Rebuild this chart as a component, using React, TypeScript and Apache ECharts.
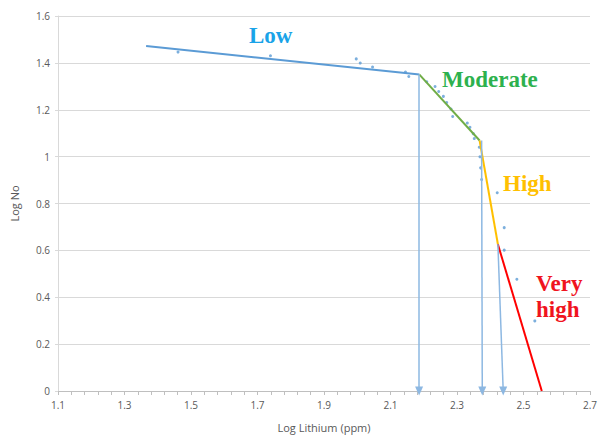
import React, { useEffect, useRef } from "react";
import * as echarts from "echarts";

// x offset so that axis ticks start at 1.1 (labels show real values)
const X0 = 1.1;

const scatterX = [1.461, 1.739, 1.997, 2.009, 2.046, 2.145, 2.155, 2.209, 2.234, 2.245, 2.259, 2.269, 2.282, 2.287, 2.331, 2.339, 2.349, 2.352, 2.367, 2.369, 2.371, 2.374, 2.421, 2.442, 2.442, 2.48, 2.534];
const scatterY = [1.446, 1.43, 1.417, 1.399, 1.382, 1.361, 1.342, 1.319, 1.299, 1.278, 1.257, 1.231, 1.203, 1.171, 1.143, 1.125, 1.098, 1.077, 1.04, 0.999, 0.952, 0.902, 0.846, 0.697, 0.601, 0.477, 0.299];

// segment break points
const lowSeg = [[1.365, 1.472], [2.187, 1.35]];
const modSeg = [[2.187, 1.35], [2.368, 1.069]];
const highSeg = [[2.368, 1.069], [2.423, 0.626]];
const vhighSeg = [[2.423, 0.626], [2.555, 0]];

// arrows (start -> end)
const arrows = [
  [[2.186, 1.35], [2.186, 0]],
  [[2.374, 1.069], [2.376, 0]],
  [[2.423, 0.626], [2.439, 0]],
];

const xTicks = ["1.1", "1.3", "1.5", "1.7", "1.9", "2.1", "2.3", "2.5", "2.7"];

const zones = [
  { name: "Low", color: "#1AA3E8", left: 249, top: 22 },
  { name: "Moderate", color: "#2DB14E", left: 442, top: 66 },
  { name: "High", color: "#FFC000", left: 503, top: 170 },
  { name: "Very\nhigh", color: "#F0141E", left: 536, top: 270 },
];

const sx = (p: number[]) => [+(p[0] - X0).toFixed(4), p[1]];

export default function App() {
  const ref = useRef<HTMLDivElement>(null);
  useEffect(() => {
    if (!ref.current) return;
    const chart = echarts.init(ref.current, null, { renderer: "svg" });
    const segs = [
      { d: lowSeg, c: "#5B9BD5" },
      { d: modSeg, c: "#70AD47" },
      { d: highSeg, c: "#FFC000" },
      { d: vhighSeg, c: "#FF0000" },
    ];
    const labelStyle = { color: "#595959", fontFamily: "Open Sans", fontSize: 10 };
    chart.setOption({
      animation: false,
      backgroundColor: "#ffffff",
      grid: { left: 58, right: 16, top: 16, bottom: 46 },
      xAxis: {
        type: "value",
        min: 0,
        max: 1.6,
        interval: 0.2,
        name: "Log Lithium (ppm)",
        nameLocation: "middle",
        nameGap: 31,
        nameTextStyle: { color: "#595959", fontFamily: "Open Sans", fontSize: 11 },
        axisLine: { show: true, lineStyle: { color: "#BFBFBF", width: 1 } },
        axisTick: { show: true, length: 4, lineStyle: { color: "#BFBFBF" } },
        minorTick: { show: true, splitNumber: 5, length: 4, lineStyle: { color: "#BFBFBF" } },
        splitLine: { show: false },
        axisLabel: {
          ...labelStyle,
          margin: 9,
          formatter: (v: number) => xTicks[Math.round(v / 0.2)] ?? "",
        },
      },
      yAxis: {
        type: "value",
        min: 0,
        max: 1.6,
        interval: 0.2,
        name: "Log No",
        nameLocation: "middle",
        nameGap: 38,
        nameTextStyle: { color: "#595959", fontFamily: "Open Sans", fontSize: 11 },
        axisLine: { show: true, lineStyle: { color: "#D9D9D9", width: 1 } },
        axisTick: { show: true, length: 3, lineStyle: { color: "#D9D9D9" } },
        splitLine: { show: true, lineStyle: { color: "#D9D9D9", width: 1 } },
        axisLabel: { ...labelStyle, margin: 8 },
      },
      series: [
        {
          type: "scatter",
          data: scatterX.map((x, i) => [+(x - X0).toFixed(4), scatterY[i]]),
          symbolSize: 3,
          itemStyle: { color: "#5B9BD5" },
          z: 3,
        },
        ...segs.map((s) => ({
          type: "line",
          data: s.d.map(sx),
          showSymbol: false,
          symbol: "none",
          lineStyle: { color: s.c, width: 2 },
          z: 4,
        })),
        {
          type: "line",
          data: [],
          markLine: {
            silent: true,
            symbol: ["none", "triangle"],
            symbolSize: [8, 9],
            label: { show: false },
            lineStyle: { color: "#8DB8E2", width: 1.5, type: "solid" },
            itemStyle: { color: "#5B9BD5" },
            data: arrows.map((a) => [
              { coord: sx(a[0]), symbol: "none" },
              { coord: sx(a[1]), symbol: "triangle", symbolRotate: 180 },
            ]),
          },
          z: 2,
        },
      ],
      graphic: zones.map((z) => ({
        type: "text",
        left: z.left,
        top: z.top,
        style: {
          text: z.name,
          fill: z.color,
          font: "bold 23px 'Liberation Serif'",
          lineHeight: 26,
        },
        z: 10,
      })),
    });
    return () => chart.dispose();
  }, []);
  return (
    <div
      ref={ref}
      style={{ position: "fixed", left: 0, top: 0, width: 606, height: 438, background: "#fff" }}
    />
  );
}
